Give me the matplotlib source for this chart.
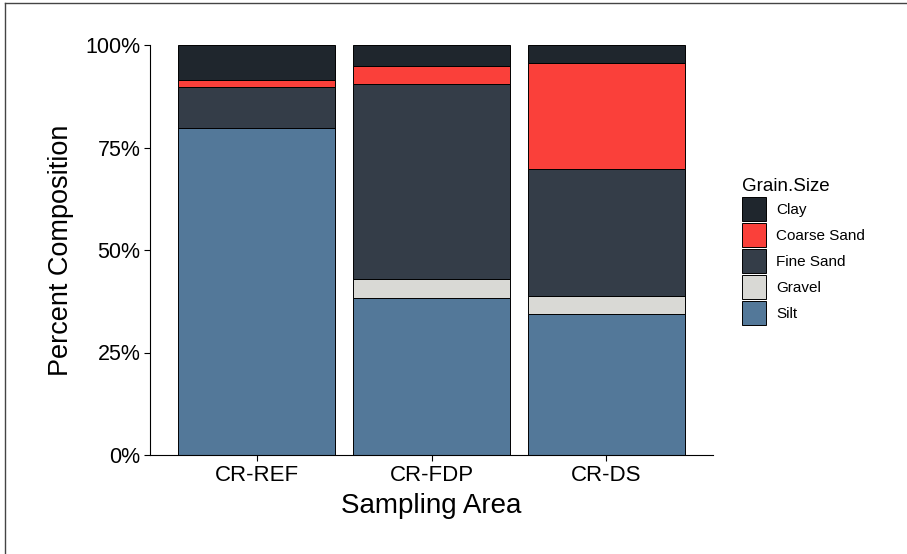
import matplotlib.pyplot as plt
import numpy as np
from matplotlib.patches import Patch
from matplotlib.lines import Line2D
from matplotlib.ticker import FuncFormatter

plt.rcParams['font.family'] = ['Liberation Sans', 'DejaVu Sans']

areas = ['CR-REF', 'CR-FDP', 'CR-DS']
# stacked from the bottom up
grain_sizes = ['Silt', 'Gravel', 'Fine Sand', 'Coarse Sand', 'Clay']
silt = [79.8, 38.2, 34.5]
gravel = [0.0, 4.7, 4.4]
fine_sand = [10.0, 47.6, 30.9]
coarse_sand = [1.6, 4.3, 25.8]
clay = [8.6, 5.2, 4.4]

colors = {'Clay': '#1f262d', 'Coarse Sand': '#fa403a', 'Fine Sand': '#343d48',
          'Gravel': '#d9d9d5', 'Silt': '#537899'}

values = [silt, gravel, fine_sand, coarse_sand, clay]

fig = plt.figure(figsize=(9.07, 5.54), dpi=100)
ax = fig.add_axes([150/907, 99/554, 563/907, 410/554])

x = np.arange(1, len(areas) + 1)
bottom = np.zeros(len(areas))
for name, vals in zip(grain_sizes, values):
    vals = np.array(vals) / 100
    ax.bar(x, vals, bottom=bottom, width=0.9, color=colors[name],
           edgecolor='black', linewidth=0.7)
    bottom = bottom + vals

ax.set_xlim(0.39, 3.61)
ax.set_ylim(0, 1)
ax.set_xticks(x)
ax.set_xticklabels(areas)
ax.set_yticks([0, 0.25, 0.5, 0.75, 1.0])
ax.yaxis.set_major_formatter(FuncFormatter(lambda v, p: '%d%%' % round(v * 100)))
ax.tick_params(axis='x', labelsize=16, length=4, width=0.8, colors='black', pad=3)
ax.tick_params(axis='y', labelsize=15.5, length=4, width=0.8, colors='black', pad=3)
ax.spines['top'].set_visible(False)
ax.spines['right'].set_visible(False)
ax.spines['left'].set_linewidth(0.8)
ax.spines['bottom'].set_linewidth(0.8)
ax.set_xlabel('Sampling Area', fontsize=20, labelpad=5)
ax.set_ylabel('Percent Composition', fontsize=19.5, labelpad=8)

# legend in alphabetical order, like ggplot
order = ['Clay', 'Coarse Sand', 'Fine Sand', 'Gravel', 'Silt']
handles = [Patch(facecolor=colors[n], edgecolor='black', linewidth=0.7) for n in order]
leg = fig.legend(handles, order, loc='upper left', bbox_to_anchor=(728/907, 1 - 164/554),
                 frameon=False, fontsize=11, title='Grain.Size', title_fontsize=13.5,
                 handlelength=1.57, handleheight=2.04, labelspacing=0.13,
                 handletextpad=0.7, alignment='left')

# screenshot border on top and left
fig.add_artist(Line2D([5/907, 5/907], [0, 1 - 3/554], color='#444444', linewidth=1))
fig.add_artist(Line2D([5/907, 1], [1 - 3/554, 1 - 3/554], color='#444444', linewidth=1))

fig.savefig('out.png', dpi=100)
